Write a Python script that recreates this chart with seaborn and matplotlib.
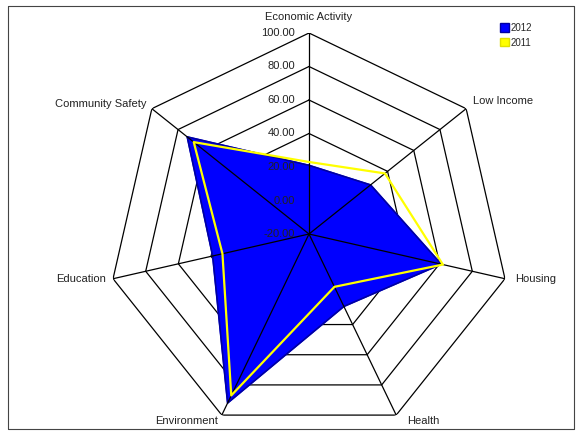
import numpy as np
import matplotlib
matplotlib.use("Agg")
import matplotlib.pyplot as plt
from matplotlib.patches import Patch
import seaborn as sns

# radar chart data
categories = ["Economic Activity", "Low Income", "Housing", "Health",
              "Environment", "Education", "Community Safety"]
values_2012 = [21, 27, 61, 28, 92, 39, 73]
values_2011 = [23, 38, 62, 15, 87, 33, 68]
ring_values = [-20, 0, 20, 40, 60, 80, 100]
series_names = ["2012", "2011"]

sns.set_theme(style="white")
plt.rcParams['font.family'] = ['Liberation Sans', 'DejaVu Sans']

W, H = 577, 436
fig = plt.figure(figsize=(W / 100, H / 100), dpi=100)
cx, cy, R = 309, 234, 201
ax = fig.add_axes([(cx - R) / W, (H - cy - R) / H, 2 * R / W, 2 * R / H],
                  projection="polar")
ax.set_theta_zero_location("N")
ax.set_theta_direction(-1)
ax.set_ylim(ring_values[0], ring_values[-1])
ax.grid(False)
ax.set_xticks([])
ax.set_yticks([])
ax.spines["polar"].set_visible(False)
ax.patch.set_alpha(0)

n = len(categories)
theta = np.linspace(0, 2 * np.pi, n, endpoint=False)
theta_c = np.append(theta, theta[0])
v12 = np.append(values_2012, values_2012[0])
v11 = np.append(values_2011, values_2011[0])

# heptagon rings under the fill
for r in ring_values[1:]:
    ax.plot(theta_c, [r] * (n + 1), color="black", lw=0.9, zorder=1)

# 2012 filled area
ax.fill(theta_c, v12, color="#0000ff", zorder=2)
ax.plot(theta_c, v12, color="#0000a0", lw=1.2, zorder=2)

# spokes over the fill
for t in theta:
    ax.plot([t, t], [ring_values[0], ring_values[-1]], color="black", lw=0.9, zorder=3)

# 2011 line
sns.lineplot(x=theta_c, y=v11, sort=False, estimator=None, color="#ffff00",
             lw=1.6, ax=ax, zorder=4)
ax.set_xlabel("")
ax.set_ylabel("")

# radial labels along the top spoke
for r in ring_values:
    ax.annotate(f"{r:.2f}", xy=(0, r), xytext=(-10, 0), textcoords="offset points",
                ha="right", va="center", fontsize=8, color="#222222", zorder=5)

# category labels
label_pos = [((0, 8), "center", "bottom"),
             ((5, 2), "left", "bottom"),
             ((7, 0), "left", "center"),
             ((8, -1), "left", "top"),
             ((-3, -1), "right", "top"),
             ((-5, 0), "right", "center"),
             ((-4, 0), "right", "bottom")]
for t, name, (off, ha, va) in zip(theta, categories, label_pos):
    ax.annotate(name, xy=(t, ring_values[-1]), xytext=off, textcoords="offset points",
                ha=ha, va=va, fontsize=8, color="#222222", annotation_clip=False)

# legend
handles = [Patch(facecolor="#0000ff", edgecolor="#0000a0"),
           Patch(facecolor="#ffff00", edgecolor="#e0e000")]
fig.legend(handles, series_names, loc="upper left",
           bbox_to_anchor=(496 / W, 1 - 19 / H), frameon=False, fontsize=7,
           handlelength=0.9, handleheight=0.9, handletextpad=0.2,
           labelspacing=0.5, borderaxespad=0)

# outer frame
x0, x1 = 8 / W, 574 / W
y0, y1 = 1 - 429 / H, 1 - 6 / H
for xs, ys in [((x0, x1), (y1, y1)), ((x0, x1), (y0, y0)), ((x0, x0), (y0, y1)), ((x1, x1), (y0, y1))]:
    fig.add_artist(plt.Line2D(xs, ys, color="#444444", lw=0.8))

fig.savefig("out.png", dpi=100)
